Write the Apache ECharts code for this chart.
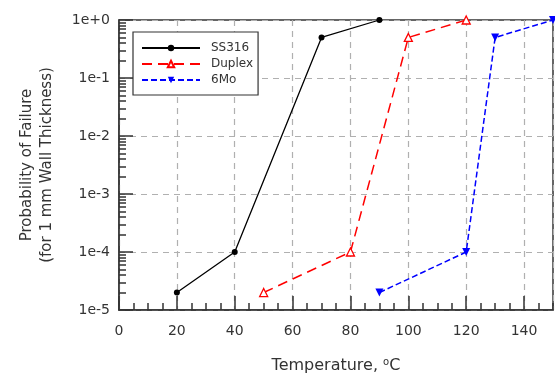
<!DOCTYPE html>
<html><head><meta charset="utf-8">
<script src="https://cdn.jsdelivr.net/npm/echarts@6/dist/echarts.min.js"></script>
<style>html,body{margin:0;padding:0;background:#fff}#c{width:555px;height:376px}</style>
</head><body><div id="c"></div>
<script>
const ss316X = [20, 40, 70, 90];
const ss316Y = [2e-5, 1e-4, 0.5, 1];
const duplexX = [50, 80, 100, 120];
const duplexY = [2e-5, 1e-4, 0.5, 1];
const mo6X = [90, 120, 130, 150];
const mo6Y = [2e-5, 1e-4, 0.5, 1];
const yDecades = [1e-5, 1e-4, 1e-3, 1e-2, 1e-1, 1];

const zip = (a, b) => a.map((v, i) => [v, b[i]]);
// log minor tick positions (2..9 x each decade), expressed as exponents for a helper axis
const minorExp = [];
for (let d = 0; d < yDecades.length - 1; d++) for (let m = 2; m <= 9; m++) minorExp.push(Math.log10(yDecades[d] * m));

const FONT = 'DejaVu Sans';
const chart = echarts.init(document.getElementById('c'));
chart.setOption({
  animation: false,
  grid: { left: 119, right: 2, top: 20, bottom: 66, outerBoundsMode: 'none', show: true, borderColor: '#333', borderWidth: 1.5, backgroundColor: 'transparent' },
  legend: {
    orient: 'vertical', left: 133, top: 32,
    backgroundColor: '#fff', borderColor: '#333', borderWidth: 1.2,
    padding: [10, 5, 9, 8], itemWidth: 58, itemHeight: 8, itemGap: 4,
    textStyle: { fontFamily: FONT, fontSize: 12, color: '#333', padding: [0, 0, 0, 6] },
    data: ['SS316', 'Duplex', '6Mo']
  },
  xAxis: [{
    type: 'value', min: 0, max: 150, interval: 20, position: 'bottom',
    axisLine: { show: true, onZero: false, lineStyle: { color: '#333', width: 1.5 } },
    axisTick: { show: true, inside: true, length: 14, lineStyle: { color: '#333', width: 1.5 } },
    axisLabel: { fontFamily: FONT, fontSize: 14, color: '#333', margin: 14, showMaxLabel: false },
    splitLine: { show: true, lineStyle: { color: '#b0b0b0', type: [6, 5], width: 1.2 } },
    name: 'Temperature, {sup|o}C', nameLocation: 'middle', nameGap: 47,
    nameTextStyle: { fontFamily: FONT, fontSize: 16, color: '#333', rich: { sup: { fontFamily: FONT, fontSize: 10, verticalAlign: 'top', padding: [0, 0, 8, 0], color: '#333' } } }
  }, {
    type: 'value', min: 0, max: 150, interval: 5, position: 'bottom',
    axisLine: { show: false, onZero: false },
    axisTick: { show: true, inside: true, length: 7, lineStyle: { color: '#333', width: 1.5 } },
    axisLabel: { show: false }, splitLine: { show: false }
  }],
  yAxis: [{
    type: 'log', logBase: 10, min: 1e-5, max: 1,
    axisLine: { show: true, onZero: false, lineStyle: { color: '#333', width: 1.5 } },
    axisTick: { show: true, inside: true, length: 14, lineStyle: { color: '#333', width: 1.5 } },
    axisLabel: { fontFamily: FONT, fontSize: 14, color: '#333', margin: 9,
      formatter: v => { const e = Math.round(Math.log10(v)); return '1e' + (e >= 0 ? '+' + e : e); } },
    splitLine: { show: true, lineStyle: { color: '#b0b0b0', type: [6, 5], width: 1.2 } },
    name: 'Probability of Failure\n(for 1 mm Wall Thickness)', nameLocation: 'middle', nameGap: 62, nameRotate: 90,
    nameTextStyle: { fontFamily: FONT, fontSize: 15, color: '#333', lineHeight: 20 }
  }, {
    type: 'value', min: -5, max: 0, position: 'left', offset: 0,
    axisLine: { show: false, onZero: false },
    axisTick: { show: true, inside: true, length: 7, customValues: minorExp, lineStyle: { color: '#333', width: 1.5 } },
    axisLabel: { show: false }, splitLine: { show: false }
  }],
  series: [
    { name: 'SS316', type: 'line', data: zip(ss316X, ss316Y), symbol: 'circle', symbolSize: 6,
      lineStyle: { color: '#000', width: 1.3, type: 'solid' }, itemStyle: { color: '#000' }, z: 5 },
    { name: 'Duplex', type: 'line', data: zip(duplexX, duplexY), symbol: 'triangle', symbolSize: 8,
      lineStyle: { color: '#f00', width: 1.5, type: [10, 6] }, itemStyle: { color: '#fff', borderColor: '#f00', borderWidth: 1.3 }, z: 5 },
    { name: '6Mo', type: 'line', data: zip(mo6X, mo6Y), symbol: 'triangle', symbolRotate: 180, symbolSize: 8,
      lineStyle: { color: '#00f', width: 1.5, type: [6, 3] }, itemStyle: { color: '#00f' }, z: 5 }
  ]
});
</script></body></html>
